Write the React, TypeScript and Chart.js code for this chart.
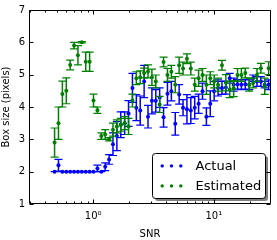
import React, { useEffect, useRef } from 'react';
import { Chart, registerables } from 'chart.js';

Chart.register(...registerables);

const FONT = "'DejaVu Sans', sans-serif";

const seriesNames = ['Actual', 'Estimated'];
const seriesColors = ['#0000ff', '#008000'];

const snr = [
  0.479, 0.516, 0.556, 0.599, 0.645, 0.695, 0.748, 0.806, 0.868, 0.935,
  1.007, 1.085, 1.169, 1.259, 1.356, 1.46, 1.573, 1.694, 1.825, 1.965,
  2.117, 2.28, 2.456, 2.646, 2.849, 3.069, 3.306, 3.56, 3.835, 4.131,
  4.45, 4.793, 5.163, 5.561, 5.99, 6.452, 6.95, 7.483, 8.061, 8.682,
  9.352, 10.07, 10.85, 11.69, 12.59, 13.56, 14.61, 15.73, 16.94, 18.25,
  19.66, 21.18, 22.8, 24.56, 26.45, 28.5,
];

const actual = [
  2.0, 2.2, 2.0, 2.0, 2.0, 2.0, 2.0, 2.0, 2.0, 2.0,
  2.0, 2.1, 2.0, 2.15, 2.38, 2.85, 3.1, 3.45, 3.5, 3.8,
  4.59, 3.98, 3.89, 4.79, 3.7, 4.19, 4.19, 4.29, 3.68, 4.41,
  4.49, 3.48, 4.39, 3.98, 3.93, 3.89, 3.98, 4.1, 4.49, 3.7,
  4.1, 4.49, 4.59, 4.59, 4.6, 4.89, 4.69, 4.7, 4.69, 4.7,
  4.69, 4.89, 4.79, 4.79, 4.69, 4.69,
];

const actualErr = [
  0, 0.18, 0, 0, 0, 0, 0, 0, 0, 0,
  0, 0.1, 0, 0.12, 0.15, 0.35, 0.45, 0.4, 0.35, 0.4,
  0.45, 0.4, 0.45, 0.5, 0.35, 0.4, 0.35, 0.3, 0.3, 0.35,
  0.3, 0.35, 0.3, 0.25, 0.45, 0.4, 0.35, 0.3, 0.25, 0.27,
  0.4, 0.3, 0.25, 0.2, 0.2, 0.15, 0.2, 0.15, 0.15, 0.15,
  0.15, 0.1, 0.15, 0.15, 0.1, 0.15,
];

const estimated = [
  2.9, 3.5, 4.4, 4.5, 5.3, 5.9, 5.6, 6.0, 5.4, 5.4,
  4.2, 3.9, 3.1, 3.15, 3.0, 3.3, 3.4, 3.45, 3.5, 3.4,
  4.2, 4.89, 4.92, 5.05, 5.1, 4.92, 4.79, 4.08, 5.39, 4.99,
  5.09, 4.69, 5.29, 5.19, 5.49, 5.19, 4.69, 4.89, 4.99, 4.69,
  4.89, 4.79, 4.69, 5.29, 4.75, 4.54, 4.57, 4.99, 4.99, 5.05,
  4.69, 4.74, 4.99, 5.2, 4.64, 5.2,
];

const estimatedErr = [
  0.45, 0.5, 0.4, 0.4, 0.15, 0.1, 0.3, 0.02, 0.3, 0.3,
  0.2, 0.1, 0.1, 0.15, 0.05, 0.2, 0.2, 0.2, 0.2, 0.25,
  0.2, 0.2, 0.2, 0.15, 0.2, 0.25, 0.2, 0.25, 0.15, 0.2,
  0.2, 0.25, 0.25, 0.2, 0.15, 0.2, 0.2, 0.25, 0.2, 0.3,
  0.2, 0.2, 0.2, 0.15, 0.25, 0.25, 0.25, 0.2, 0.2, 0.15,
  0.2, 0.15, 0.2, 0.15, 0.25, 0.2,
];

const xMin = 0.294;
const xMax = 29.8;
const yMin = 1;
const yMax = 7;

const SUPERS: Record<string, string> = { '-': '⁻', '0': '⁰', '1': '¹', '2': '²', '3': '³' };

const errorBarPlugin = {
  id: 'errorBars',
  beforeDatasetDraw(chart: any, args: any) {
    const ds = chart.data.datasets[args.index];
    const errs: number[] = ds.errors;
    if (!errs) return;
    const xs = chart.scales.x;
    const ys = chart.scales.y;
    const { ctx, chartArea } = chart;
    ctx.save();
    ctx.beginPath();
    ctx.rect(chartArea.left, chartArea.top, chartArea.right - chartArea.left, chartArea.bottom - chartArea.top);
    ctx.clip();
    ctx.strokeStyle = ds.backgroundColor;
    ds.data.forEach((p: any, i: number) => {
      const e = errs[i];
      const px = xs.getPixelForValue(p.x);
      const y1 = ys.getPixelForValue(p.y - e);
      const y2 = ys.getPixelForValue(p.y + e);
      ctx.lineWidth = 1.5;
      ctx.beginPath();
      ctx.moveTo(px, y1);
      ctx.lineTo(px, y2);
      ctx.stroke();
      ctx.lineWidth = 1.2;
      ctx.beginPath();
      ctx.moveTo(px - 4, y1);
      ctx.lineTo(px + 4, y1);
      ctx.moveTo(px - 4, y2);
      ctx.lineTo(px + 4, y2);
      ctx.stroke();
    });
    ctx.restore();
  },
};

const framePlugin = {
  id: 'frameTicks',
  afterDraw(chart: any) {
    const { ctx, chartArea } = chart;
    const xs = chart.scales.x;
    const ys = chart.scales.y;
    const L = Math.round(chartArea.left) + 0.5;
    const R = Math.round(chartArea.right) - 0.5;
    const T = Math.round(chartArea.top) + 0.5;
    const B = Math.round(chartArea.bottom) - 0.5;
    ctx.save();
    ctx.strokeStyle = '#000';
    ctx.lineWidth = 1;
    ctx.beginPath();
    // y ticks (inward, both sides)
    ys.ticks.forEach((t: any) => {
      const py = Math.round(ys.getPixelForValue(t.value)) + 0.5;
      ctx.moveTo(L, py);
      ctx.lineTo(L + 4, py);
      ctx.moveTo(R, py);
      ctx.lineTo(R - 4, py);
    });
    // x ticks (log, inward, bottom and top)
    const e0 = Math.floor(Math.log10(xs.min));
    const e1 = Math.ceil(Math.log10(xs.max));
    for (let e = e0; e <= e1; e++) {
      for (let m = 1; m <= 9; m++) {
        const v = m * Math.pow(10, e);
        if (v < xs.min || v > xs.max) continue;
        const px = Math.round(xs.getPixelForValue(v)) + 0.5;
        const len = m === 1 ? 4 : 2;
        ctx.moveTo(px, B);
        ctx.lineTo(px, B - len);
        ctx.moveTo(px, T);
        ctx.lineTo(px, T + len);
      }
    }
    ctx.stroke();
    ctx.beginPath();
    ctx.rect(L, T, R - L, B - T);
    ctx.stroke();
    ctx.restore();
  },
};

const legendPlugin = {
  id: 'boxLegend',
  afterDraw(chart: any) {
    const { ctx, chartArea } = chart;
    const w = 113;
    const h = 45;
    const x0 = Math.round(chartArea.right - 6.5 - w) + 0.5;
    const y0 = Math.round(chartArea.bottom - 6 - h) + 0.5;
    ctx.save();
    ctx.fillStyle = 'rgba(0,0,0,0.5)';
    ctx.beginPath();
    ctx.roundRect(x0 + 2.5, y0 + 2.5, w, h, 3);
    ctx.fill();
    ctx.fillStyle = '#ffffff';
    ctx.beginPath();
    ctx.roundRect(x0, y0, w, h, 3);
    ctx.fill();
    ctx.strokeStyle = '#000';
    ctx.lineWidth = 1;
    ctx.stroke();
    chart.data.datasets.forEach((ds: any, k: number) => {
      const cy = y0 + 12.4 + k * 20;
      ctx.fillStyle = ds.backgroundColor;
      for (let j = 0; j < 3; j++) {
        ctx.beginPath();
        ctx.arc(x0 + 9.7 + j * 9.3, cy, 1.7, 0, Math.PI * 2);
        ctx.fill();
      }
      ctx.fillStyle = '#000';
      ctx.font = `13px ${FONT}`;
      ctx.textBaseline = 'middle';
      ctx.textAlign = 'left';
      ctx.fillText(ds.label, x0 + 43, cy + 0.5);
    });
    ctx.restore();
  },
};

export default function App() {
  const canvasRef = useRef<HTMLCanvasElement | null>(null);

  useEffect(() => {
    document.body.style.margin = '0';
    const canvas = canvasRef.current;
    if (!canvas) return;
    const values = [actual, estimated];
    const errors = [actualErr, estimatedErr];
    const chart = new Chart(canvas, {
      type: 'scatter',
      data: {
        datasets: seriesNames.map((name, k) => ({
          label: name,
          data: snr.map((x, i) => ({ x, y: values[k][i] })),
          errors: errors[k],
          backgroundColor: seriesColors[k],
          borderColor: seriesColors[k],
          pointRadius: 2,
          pointBorderWidth: 0,
          pointHoverRadius: 2,
          order: 2 - k,
        })) as any,
      },
      options: {
        animation: false,
        responsive: false,
        devicePixelRatio: 1,
        layout: { padding: { top: 5, right: 1.3, left: 0, bottom: 0 } },
        plugins: {
          legend: { display: false },
          tooltip: { enabled: false },
        },
        scales: {
          x: {
            type: 'logarithmic',
            min: xMin,
            max: xMax,
            afterFit: (s: any) => {
              s.height = 36;
            },
            grid: { display: false, drawTicks: false },
            border: { display: false },
            ticks: {
              autoSkip: false,
              maxRotation: 0,
              padding: 6,
              color: '#000',
              font: { family: FONT, size: 10 },
              callback: (value: any) => {
                const v = Number(value);
                const lg = Math.log10(v);
                if (Math.abs(lg - Math.round(lg)) < 1e-9) {
                  const exp = String(Math.round(lg));
                  return '10' + exp.split('').map((c) => SUPERS[c] || c).join('');
                }
                return '';
              },
            },
            title: {
              display: true,
              text: 'SNR',
              color: '#000',
              font: { family: FONT, size: 10 },
              padding: 0,
            },
          },
          y: {
            type: 'linear',
            min: yMin,
            max: yMax,
            afterFit: (s: any) => {
              s.width = 29;
            },
            grid: { display: false, drawTicks: false },
            border: { display: false },
            ticks: {
              stepSize: 1,
              padding: 4,
              color: '#000',
              font: { family: FONT, size: 10 },
            },
            title: {
              display: true,
              text: 'Box size (pixels)',
              color: '#000',
              font: { family: FONT, size: 10 },
              padding: 0,
            },
          },
        },
      } as any,
      plugins: [errorBarPlugin, framePlugin, legendPlugin],
    });
    return () => chart.destroy();
  }, []);

  return (
    <div style={{ position: 'absolute', left: 0, top: 0, width: 277, height: 240 }}>
      <canvas ref={canvasRef} width={277} height={240} style={{ display: 'block' }} />
    </div>
  );
}
